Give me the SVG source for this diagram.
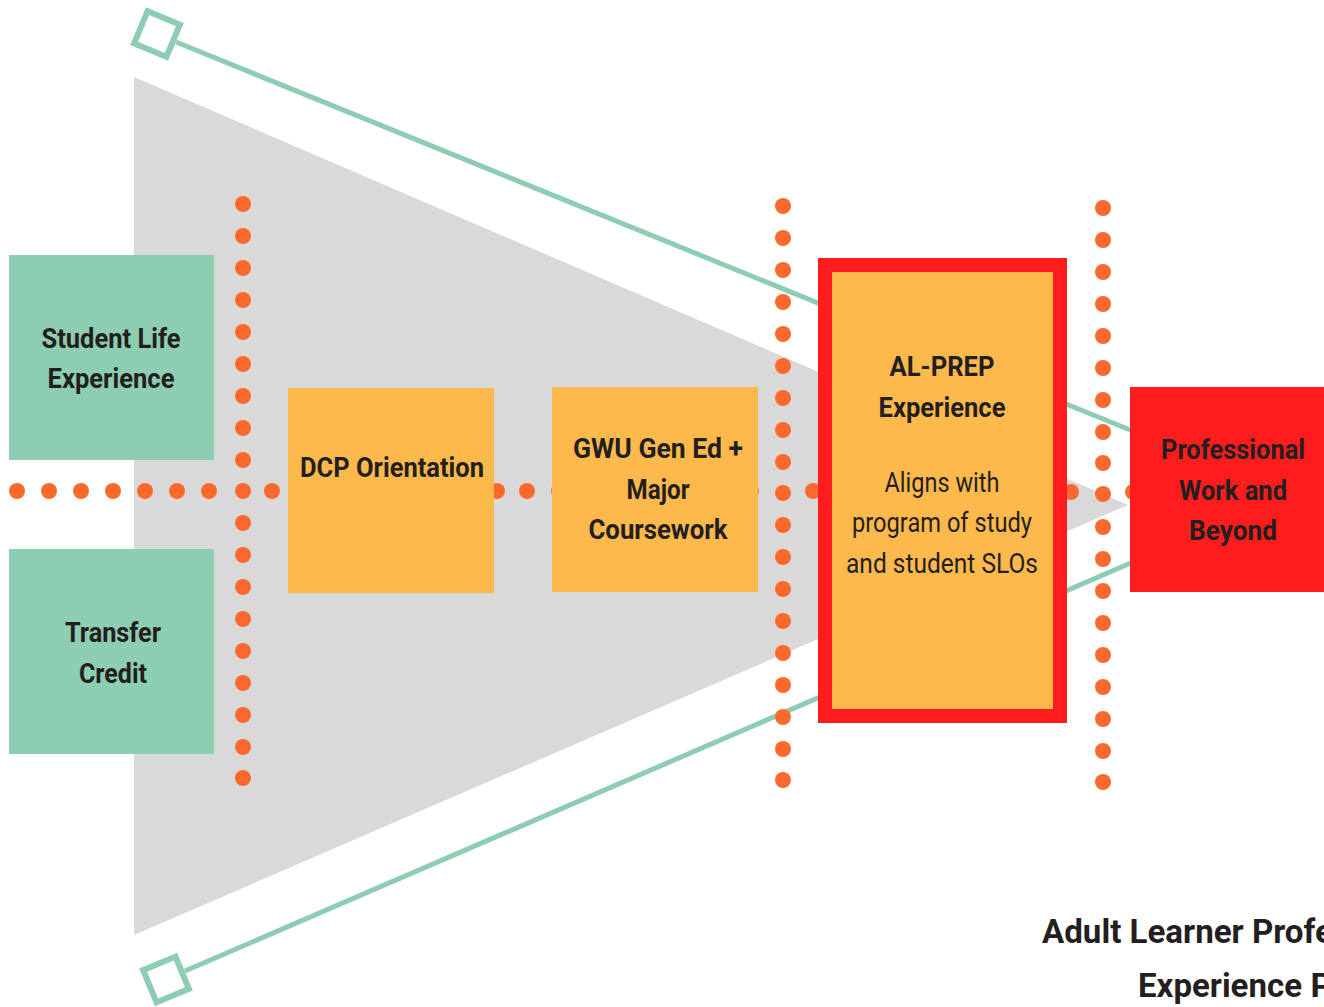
<svg xmlns="http://www.w3.org/2000/svg" width="1324" height="1007" viewBox="0 0 1324 1007">
<defs>
<style>
.t{font-family:Roboto,"Liberation Sans",sans-serif;font-weight:bold;font-size:27px;fill:#231f20;text-anchor:middle}
.r{font-weight:normal}
.title{font-size:34px;text-anchor:start}
.dot{fill:#fb6a2c}
.conn{stroke:#8dcdb1;stroke-width:5;fill:none}
.sq{stroke:#8dcdb1;stroke-width:6;fill:#fff}
.green{fill:#8dcdb1}
.orange{fill:#fdb94b}
.red{fill:#fe1c1c}
</style>
<circle id="d" r="8" class="dot"/>
</defs>
<rect width="1324" height="1007" fill="#fff"/>
<polygon id="funnel" points="134,77 134,935 1128,505" fill="#d9d9d9"/>
<g id="connectors">
<line class="conn" x1="176" y1="42" x2="1140" y2="434"/>
<line class="conn" x1="185" y1="971" x2="1140" y2="559"/>
<rect class="sq" x="-17.5" y="-17.5" width="35" height="35" transform="translate(157,34) rotate(22.5)"/>
<rect class="sq" x="-17.5" y="-17.5" width="35" height="35" transform="translate(166,979.5) rotate(-22.5)"/>
</g>
<g id="dots">
<g id="col1">
<use href="#d" x="243" y="204"/><use href="#d" x="243" y="236"/><use href="#d" x="243" y="268"/><use href="#d" x="243" y="300"/><use href="#d" x="243" y="332"/><use href="#d" x="243" y="364"/><use href="#d" x="243" y="396"/><use href="#d" x="243" y="428"/><use href="#d" x="243" y="460"/><use href="#d" x="243" y="491"/><use href="#d" x="243" y="523"/><use href="#d" x="243" y="555"/><use href="#d" x="243" y="587"/><use href="#d" x="243" y="619"/><use href="#d" x="243" y="651"/><use href="#d" x="243" y="683"/><use href="#d" x="243" y="715"/><use href="#d" x="243" y="747"/><use href="#d" x="243" y="778"/>
</g>
<g id="col2">
<use href="#d" x="783" y="206"/><use href="#d" x="783" y="238"/><use href="#d" x="783" y="270"/><use href="#d" x="783" y="302"/><use href="#d" x="783" y="334"/><use href="#d" x="783" y="366"/><use href="#d" x="783" y="398"/><use href="#d" x="783" y="430"/><use href="#d" x="783" y="462"/><use href="#d" x="783" y="493"/><use href="#d" x="783" y="525"/><use href="#d" x="783" y="557"/><use href="#d" x="783" y="589"/><use href="#d" x="783" y="621"/><use href="#d" x="783" y="653"/><use href="#d" x="783" y="685"/><use href="#d" x="783" y="717"/><use href="#d" x="783" y="749"/><use href="#d" x="783" y="780"/>
</g>
<g id="col3">
<use href="#d" x="1103" y="208"/><use href="#d" x="1103" y="240"/><use href="#d" x="1103" y="272"/><use href="#d" x="1103" y="304"/><use href="#d" x="1103" y="336"/><use href="#d" x="1103" y="368"/><use href="#d" x="1103" y="400"/><use href="#d" x="1103" y="432"/><use href="#d" x="1103" y="463"/><use href="#d" x="1103" y="494"/><use href="#d" x="1103" y="527"/><use href="#d" x="1103" y="559"/><use href="#d" x="1103" y="591"/><use href="#d" x="1103" y="623"/><use href="#d" x="1103" y="655"/><use href="#d" x="1103" y="687"/><use href="#d" x="1103" y="719"/><use href="#d" x="1103" y="751"/><use href="#d" x="1103" y="782"/>
</g>
<g id="row">
<use href="#d" x="17" y="491"/><use href="#d" x="49" y="491"/><use href="#d" x="81" y="491"/><use href="#d" x="113" y="491"/><use href="#d" x="145" y="491"/><use href="#d" x="177" y="491"/><use href="#d" x="209" y="491"/><use href="#d" x="272" y="491"/><use href="#d" x="304" y="491"/><use href="#d" x="336" y="491"/><use href="#d" x="368" y="491"/><use href="#d" x="400" y="491"/><use href="#d" x="432" y="491"/><use href="#d" x="464" y="491"/><use href="#d" x="497" y="491"/><use href="#d" x="527" y="491"/><use href="#d" x="559" y="491"/><use href="#d" x="751" y="491"/><use href="#d" x="813" y="491"/><use href="#d" x="1071" y="492"/><use href="#d" x="1133" y="492"/>
</g>
</g>
<g id="student-life">
<rect class="green" x="9" y="255" width="205" height="205"/>
<text class="t" x="111" y="348" textLength="139" lengthAdjust="spacingAndGlyphs">Student Life</text>
<text class="t" x="111" y="388" textLength="127" lengthAdjust="spacingAndGlyphs">Experience</text>
</g>
<g id="transfer-credit">
<rect class="green" x="9" y="549" width="205" height="205"/>
<text class="t" x="113" y="642" textLength="96" lengthAdjust="spacingAndGlyphs">Transfer</text>
<text class="t" x="113" y="683" textLength="68" lengthAdjust="spacingAndGlyphs">Credit</text>
</g>
<g id="dcp-orientation">
<rect class="orange" x="288" y="388" width="206" height="205"/>
<text class="t" x="392" y="477" textLength="184" lengthAdjust="spacingAndGlyphs">DCP Orientation</text>
</g>
<g id="gwu-gen-ed">
<rect class="orange" x="552" y="387" width="206" height="205"/>
<text class="t" x="658" y="458" textLength="170" lengthAdjust="spacingAndGlyphs">GWU Gen Ed +</text>
<text class="t" x="658" y="499" textLength="63" lengthAdjust="spacingAndGlyphs">Major</text>
<text class="t" x="658" y="539" textLength="139" lengthAdjust="spacingAndGlyphs">Coursework</text>
</g>
<g id="al-prep">
<rect x="825" y="265" width="235" height="451" fill="#fdb94b" stroke="#fe1c1c" stroke-width="14"/>
<text class="t" x="942" y="376" textLength="105" lengthAdjust="spacingAndGlyphs">AL-PREP</text>
<text class="t" x="942" y="417" textLength="127" lengthAdjust="spacingAndGlyphs">Experience</text>
<text class="t r" x="942" y="492" textLength="115" lengthAdjust="spacingAndGlyphs">Aligns with</text>
<text class="t r" x="942" y="532" textLength="180" lengthAdjust="spacingAndGlyphs">program of study</text>
<text class="t r" x="942" y="573" textLength="192" lengthAdjust="spacingAndGlyphs">and student SLOs</text>
</g>
<g id="professional">
<rect class="red" x="1130" y="387" width="200" height="205"/>
<text class="t" x="1233" y="459" textLength="144" lengthAdjust="spacingAndGlyphs">Professional</text>
<text class="t" x="1233" y="500" textLength="108" lengthAdjust="spacingAndGlyphs">Work and</text>
<text class="t" x="1233" y="540" textLength="88" lengthAdjust="spacingAndGlyphs">Beyond</text>
</g>
<g id="title">
<text class="t title" x="1042" y="943"><tspan textLength="273" lengthAdjust="spacingAndGlyphs">Adult Learner Prof</tspan>essional</text>
<text class="t title" x="1138" y="997"><tspan textLength="164" lengthAdjust="spacingAndGlyphs">Experience</tspan> Program</text>
</g>
</svg>
